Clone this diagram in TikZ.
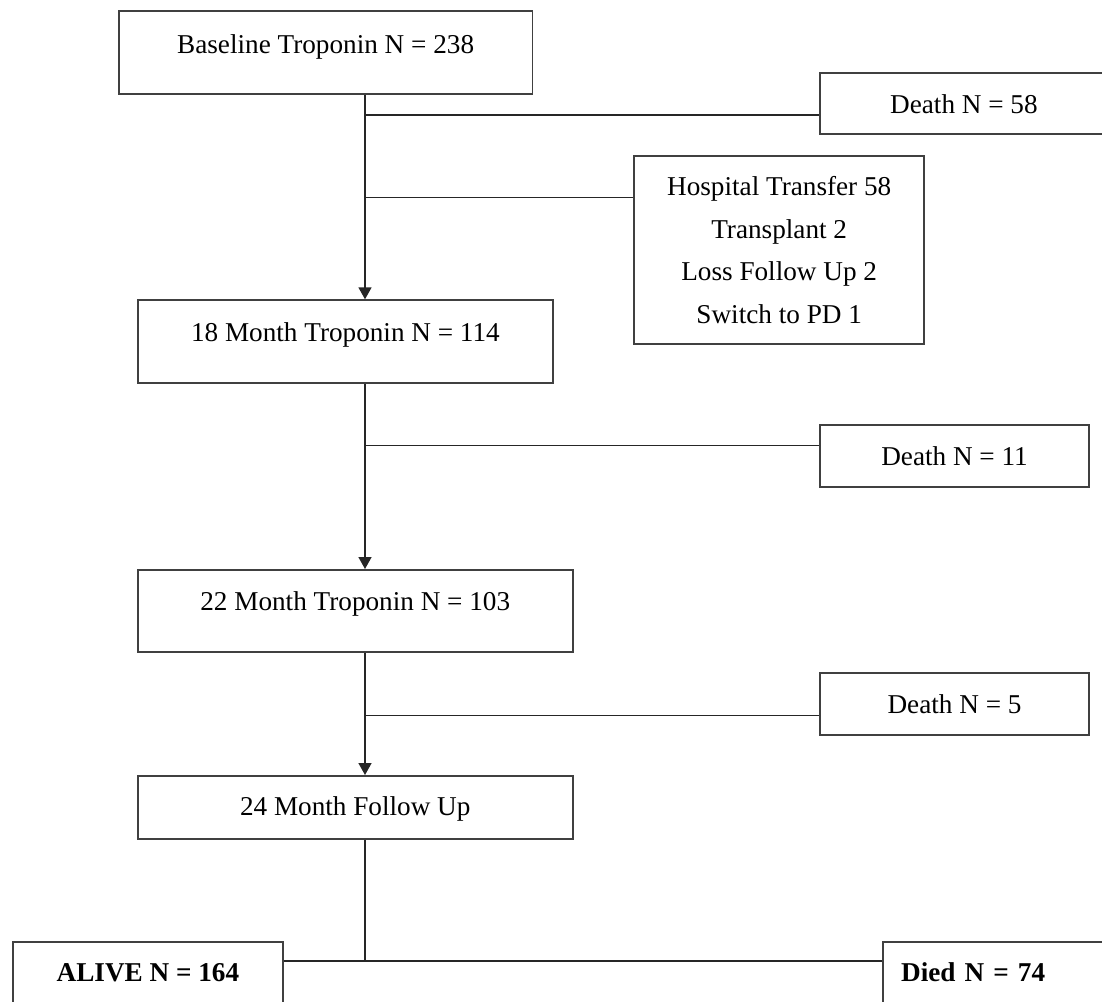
\documentclass[tikz,border=0pt]{standalone}
\usepackage{fontspec}
\setmainfont{Liberation Serif}
\usetikzlibrary{arrows.meta}
\usetikzlibrary{calc}

\begin{document}
\begin{tikzpicture}[x=0.5pt,y=-0.5pt,
    stage/.style={draw=black!75, line width=0.9pt, inner sep=0pt, anchor=north west,
      align=center, font=\fontsize{13.6}{16}\selectfont},
    dims/.style n args={3}{minimum width=#1, text height=#2, text depth=#3},
    link/.style={draw=black!85, line width=0.8pt},
    flow/.style={link, -{Triangle[width=6.5pt,length=6pt]}}]
  \useasboundingbox (0,0) rectangle (1102,1001);
  \coordinate (spine) at (365,0);

  % stages down the left
  \node[stage, dims={206.75pt}{21.15pt}{20.35pt}] (base) at (118,10) {Baseline Troponin N = 238};
  \node[stage, dims={207.2pt}{20.7pt}{20.5pt}] (m18) at (137.3,299.3) {18 Month Troponin N = 114};
  \node[stage, dims={217.35pt}{20.5pt}{20.35pt}] (m22) at (137,569) {22 Month Troponin N = 103};
  \node[stage, dims={217.35pt}{20pt}{11.35pt}] (fu) at (137,775) {24 Month Follow Up};

  % losses on the right
  \node[stage, dims={144pt}{20pt}{10.5pt}] (d58) at (819,72.3) {Death N = 58};
  \node[stage, minimum width=145pt, minimum height=94.15pt,
        font=\fontsize{13.6}{21.25}\selectfont] (hosp) at (633.3,155)
        {Hospital Transfer 58\\Transplant 2\\Loss Follow Up 2\\Switch to PD 1};
  \node[stage, dims={134.65pt}{20.35pt}{10.35pt}] (d11) at (819,424.3) {Death N = 11};
  \node[stage, dims={134.65pt}{20.35pt}{10.35pt}] (d5) at (819,672.3) {Death N = 5};

  % outcome
  \node[stage, dims={134.7pt}{20.15pt}{10.5pt}, font=\fontsize{13.6}{16}\selectfont\bfseries]
        (alive) at (12.3,940.7) {ALIVE N = 164};
  \node[stage, text width=121pt, align=left, inner xsep=9pt, text height=20.15pt, text depth=10.5pt,
        font=\fontsize{13.6}{16}\selectfont\bfseries] (died) at (882.3,940.7) {Died N = 74};

  % junctions on the spine
  \coordinate (j1) at ($(base.south -| spine)+(0,20)$);
  \coordinate (j2) at ($(base.south -| spine)+(0,102.7)$);
  \coordinate (j3) at ($(m18.south -| spine)+(0,62)$);
  \coordinate (j4) at ($(m22.south -| spine)+(0,63)$);
  \coordinate (split) at ($(alive.north -| spine)+(0,20.3)$);

  \draw[flow] (base.south -| spine) -- (m18.north -| spine);
  \draw[flow] (m18.south -| spine) -- (m22.north -| spine);
  \draw[flow] (m22.south -| spine) -- (fu.north -| spine);
  \draw[link] (fu.south -| spine) -- (split);

  \draw[link] (j1) -- (j1 -| d58.west);
  \draw[link] (j2) -- (j2 -| hosp.west);
  \draw[link] (j3) -- (j3 -| d11.west);
  \draw[link] (j4) -- (j4 -| d5.west);
  \draw[link] (split -| alive.east) -- (split -| died.west);
\end{tikzpicture}
\end{document}
